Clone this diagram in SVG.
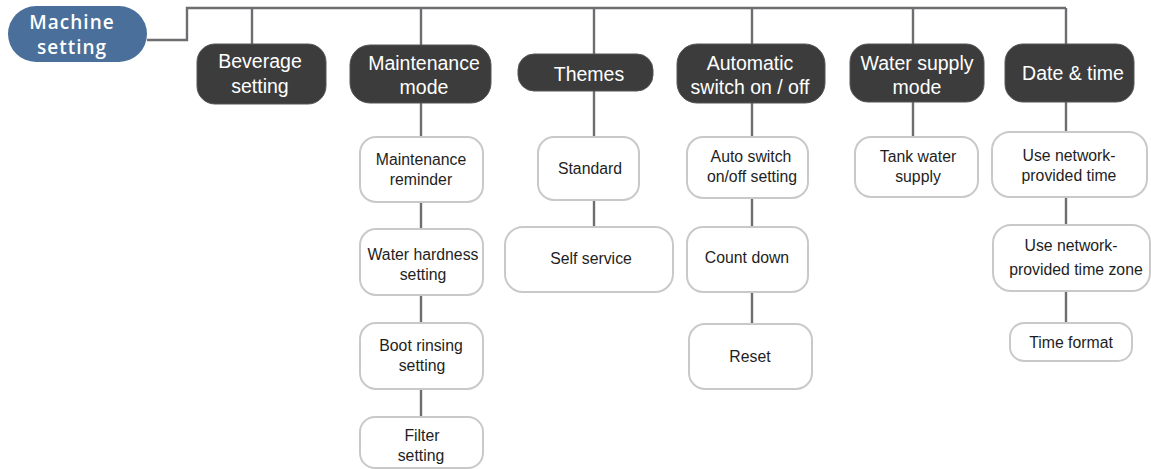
<svg xmlns="http://www.w3.org/2000/svg" width="1151" height="469" viewBox="0 0 1151 469">
<style>
.ln{fill:none;stroke:#6e6e72;stroke-width:2.4}
.top{fill:#3c3c3c;stroke:#555;stroke-width:1}
.topt{fill:#fff;font-family:"Liberation Sans",Arial,sans-serif;font-size:19.5px;text-anchor:middle}
.ch{fill:#fff;stroke:#c9c9c9;stroke-width:2}
.cht{fill:#1e1e1e;font-family:"Liberation Sans",Arial,sans-serif;font-size:15.8px;text-anchor:middle}
.root{fill:#4a6f9a}
.roott{fill:#fff;font-family:"Open Sans","Noto Sans",sans-serif;font-size:19px;letter-spacing:1px;text-anchor:middle;font-weight:600}
</style>
<g id="connectors">
<path class="ln" d="M147 40 H187 V8 H1066"/>
<path class="ln" d="M252 8 V44"/>
<path class="ln" d="M421 8 V417"/>
<path class="ln" d="M594 8 V227"/>
<path class="ln" d="M752 8 V324"/>
<path class="ln" d="M913 8 V137"/>
<path class="ln" d="M1066 8 V323"/>
</g>
<g id="machine-setting"><rect class="root" x="8" y="6" width="139" height="56" rx="28"/><text class="roott" x="72" y="29">Machine</text><text class="roott" x="72" y="54">setting</text></g>
<g id="beverage-setting"><rect class="top" x="197" y="44" width="129" height="60" rx="18"/><text class="topt" x="260" y="68">Beverage</text><text class="topt" x="260" y="93">setting</text></g>
<g id="maintenance-mode"><rect class="top" x="350" y="45" width="141" height="58" rx="20"/><text class="topt" x="424" y="70">Maintenance</text><text class="topt" x="424" y="94">mode</text></g>
<g id="themes"><rect class="top" x="518" y="54" width="135" height="37" rx="16"/><text class="topt" x="589" y="81">Themes</text></g>
<g id="automatic-switch"><rect class="top" x="677" y="44" width="148" height="59" rx="20"/><text class="topt" x="750" y="70">Automatic</text><text class="topt" x="750" y="94">switch on / off</text></g>
<g id="water-supply-mode"><rect class="top" x="850" y="44" width="134" height="58" rx="18"/><text class="topt" x="917" y="70">Water supply</text><text class="topt" x="917" y="94">mode</text></g>
<g id="date-time"><rect class="top" x="1005" y="44" width="129" height="58" rx="18"/><text class="topt" x="1073" y="80">Date &amp; time</text></g>
<g id="maintenance-reminder"><rect class="ch" x="360" y="137" width="123" height="65" rx="16"/><text class="cht" x="421" y="165">Maintenance</text><text class="cht" x="421" y="185">reminder</text></g>
<g id="water-hardness"><rect class="ch" x="360" y="229" width="123" height="66" rx="16"/><text class="cht" x="423" y="260">Water hardness</text><text class="cht" x="423" y="280">setting</text></g>
<g id="boot-rinsing"><rect class="ch" x="360" y="323" width="123" height="66" rx="16"/><text class="cht" x="421" y="351">Boot rinsing</text><text class="cht" x="422" y="371">setting</text></g>
<g id="filter-setting"><rect class="ch" x="360" y="417" width="123" height="51" rx="15"/><text class="cht" x="422" y="441">Filter</text><text class="cht" x="421" y="461">setting</text></g>
<g id="standard"><rect class="ch" x="538" y="137" width="101" height="63" rx="16"/><text class="cht" x="590" y="174">Standard</text></g>
<g id="self-service"><rect class="ch" x="505" y="227" width="168" height="65" rx="18"/><text class="cht" x="591" y="264">Self service</text></g>
<g id="auto-switch-setting"><rect class="ch" x="687" y="137" width="121" height="61" rx="16"/><text class="cht" x="751" y="162">Auto switch</text><text class="cht" x="752" y="182">on/off setting</text></g>
<g id="count-down"><rect class="ch" x="687" y="227" width="121" height="65" rx="16"/><text class="cht" x="747" y="263">Count down</text></g>
<g id="reset"><rect class="ch" x="689" y="324" width="123" height="65" rx="16"/><text class="cht" x="750" y="362">Reset</text></g>
<g id="tank-water-supply"><rect class="ch" x="855" y="137" width="123" height="60" rx="16"/><text class="cht" x="918" y="162">Tank water</text><text class="cht" x="918" y="182">supply</text></g>
<g id="network-time"><rect class="ch" x="992" y="132" width="155" height="65" rx="18"/><text class="cht" x="1069" y="161">Use network-</text><text class="cht" x="1069" y="181">provided time</text></g>
<g id="network-time-zone"><rect class="ch" x="993" y="225" width="157" height="66" rx="18"/><text class="cht" x="1071" y="251">Use network-</text><text class="cht" x="1076" y="275">provided time zone</text></g>
<g id="time-format"><rect class="ch" x="1010" y="323" width="122" height="38" rx="14"/><text class="cht" x="1071" y="348">Time format</text></g>
</svg>
